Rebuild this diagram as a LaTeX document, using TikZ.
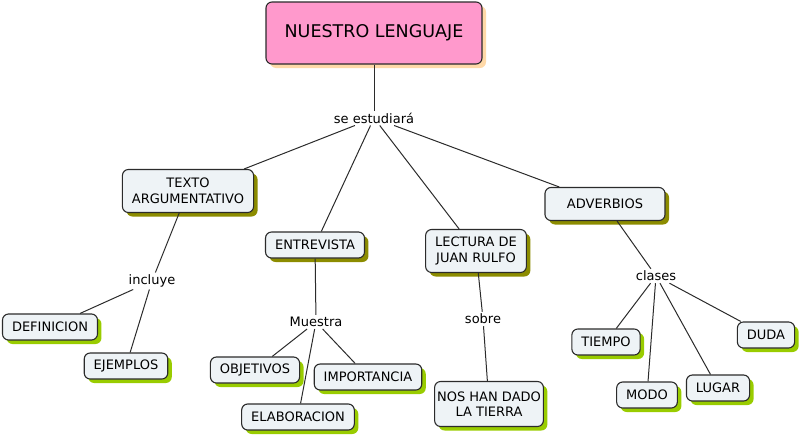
\documentclass[tikz,border=0pt]{standalone}
\usepackage{fontspec}
\setmainfont{DejaVu Sans}
\usetikzlibrary{shadows}
\definecolor{rootpink}{HTML}{FF99CC}
\definecolor{rootshade}{HTML}{FFD9A8}
\definecolor{boxfill}{HTML}{EEF3F6}
\definecolor{oliveshade}{HTML}{8C8C00}
\definecolor{limeshade}{HTML}{99CC00}
\definecolor{edgegray}{HTML}{2B2B2B}

\begin{document}
\begin{tikzpicture}[
			x=1pt,y=-1pt,
			every node/.style={font=\fontsize{13}{15.5}\selectfont,align=center},
			box/.style={draw=edgegray,line width=1.1pt,rounded corners=6pt,fill=boxfill,minimum height=26pt,inner xsep=9.5pt,inner ysep=3pt},
			topbox/.style={box,fill=rootpink,minimum width=216pt,minimum height=62pt,font=\fontsize{17.5}{20}\selectfont,drop shadow={shadow xshift=4pt,shadow yshift=-4pt,fill=rootshade,opacity=1}},
			midbox/.style={box,drop shadow={shadow xshift=4pt,shadow yshift=-4pt,fill=oliveshade,opacity=1}},
			leafbox/.style={box,drop shadow={shadow xshift=4pt,shadow yshift=-4pt,fill=limeshade,opacity=1}},
			link/.style={inner sep=2pt},
			con/.style={draw=edgegray,line width=1pt}
			]
			\useasboundingbox (0,0) rectangle (800,439);
			\node[topbox] (root) at (374,33) {NUESTRO LENGUAJE};
			\node[link] (est) at (374,118) {se estudiará};
			\node[midbox,minimum height=43pt] (texto) at (188,191) {TEXTO\\ARGUMENTATIVO};
			\node[midbox] (entre) at (315,245) {ENTREVISTA};
			\node[midbox,minimum height=43pt] (lect) at (476,251) {LECTURA DE\\JUAN RULFO};
			\node[midbox,minimum width=120pt,minimum height=33pt] (adv) at (605,204) {ADVERBIOS};
			\node[link] (incl) at (152,281) {incluye};
			\node[leafbox] (defi) at (50,327) {DEFINICION};
			\node[leafbox] (ejem) at (126,366) {EJEMPLOS};
			\node[link] (mues) at (316,322) {Muestra};
			\node[leafbox] (obje) at (255,370) {OBJETIVOS};
			\node[leafbox] (impo) at (368,377) {IMPORTANCIA};
			\node[leafbox] (elab) at (298,417) {ELABORACION};
			\node[link] (sobre) at (483,319) {sobre};
			\node[leafbox,minimum height=45pt,inner xsep=2.5pt] (tierra) at (489,404) {NOS HAN DADO\\LA TIERRA};
			\node[link] (clas) at (656,276) {clases};
			\node[leafbox] (tiem) at (606,342) {TIEMPO};
			\node[leafbox] (modo) at (647,395) {MODO};
			\node[leafbox] (luga) at (718,388) {LUGAR};
			\node[leafbox] (duda) at (766,335) {DUDA};
			\draw[con] (root)--(est);
			\draw[con] (est)--(texto);
			\draw[con] (est)--(entre);
			\draw[con] (est)--(lect);
			\draw[con] (est)--(adv);
			\draw[con] (texto)--(incl);
			\draw[con] (incl)--(defi);
			\draw[con] (incl)--(ejem);
			\draw[con] (entre)--(mues);
			\draw[con] (mues)--(obje);
			\draw[con] (mues)--(impo);
			\draw[con] (mues)--(elab);
			\draw[con] (lect)--(sobre);
			\draw[con] (sobre)--(tierra);
			\draw[con] (adv)--(clas);
			\draw[con] (clas)--(tiem);
			\draw[con] (clas)--(modo);
			\draw[con] (clas)--(luga);
			\draw[con] (clas)--(duda);
		\end{tikzpicture}
\end{document}
